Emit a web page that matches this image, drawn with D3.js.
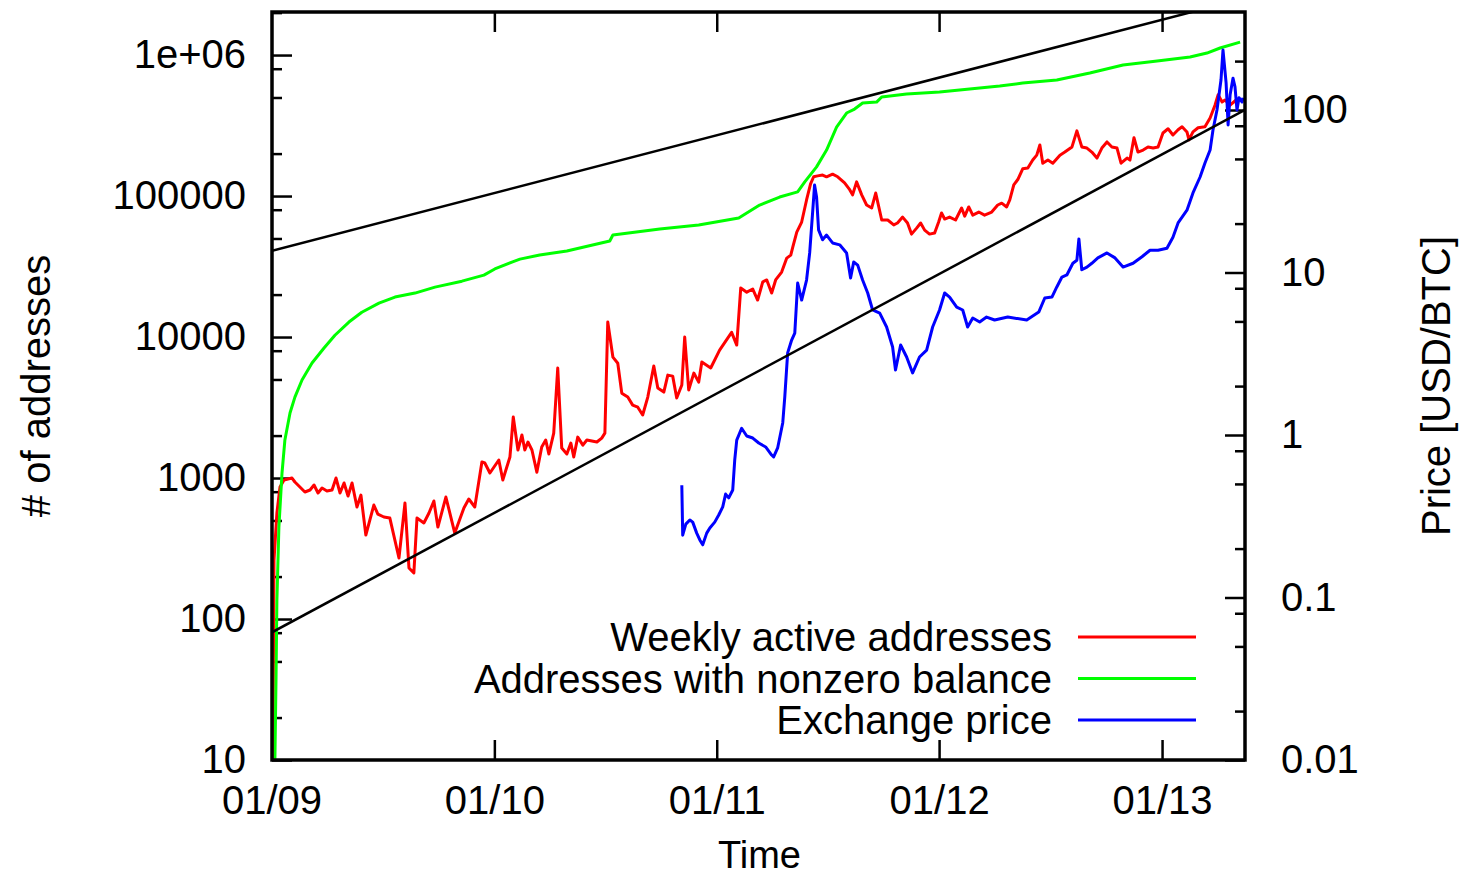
<!DOCTYPE html>
<html>
<head>
<meta charset="utf-8">
<script src="https://cdn.jsdelivr.net/npm/d3@7"></script>
<style>
  body { margin: 0; background: #fff; }
  text { font-family: "Liberation Sans", Arial, Helvetica, sans-serif; }
</style>
</head>
<body>
<script>
// Tamaño total y márgenes del área de gráfico
const WIDTH = 1461;
const HEIGHT = 879;
const MARGIN = { top: 12, bottom: 119, left: 272, right: 216 };

// Datos: [año decimal, valor]
const weeklyActive = [
  [2009.004, 10], [2009.009, 262], [2009.022, 565], [2009.036, 863], [2009.054, 968],
  [2009.090, 1000], [2009.103, 937], [2009.148, 796], [2009.171, 822], [2009.189, 892],
  [2009.207, 783], [2009.225, 849], [2009.247, 809], [2009.270, 822], [2009.288, 1000],
  [2009.306, 783], [2009.324, 922], [2009.342, 745], [2009.360, 922], [2009.382, 623],
  [2009.400, 757], [2009.422, 394], [2009.458, 643], [2009.476, 555], [2009.503, 529],
  [2009.530, 520], [2009.571, 271], [2009.598, 665], [2009.616, 230], [2009.638, 212],
  [2009.652, 520], [2009.683, 480], [2009.706, 565], [2009.728, 687], [2009.746, 449],
  [2009.782, 733], [2009.822, 407], [2009.863, 613], [2009.885, 710], [2009.912, 623],
  [2009.944, 1300], [2009.957, 1278], [2009.980, 1085], [2010.020, 1342], [2010.038, 968],
  [2010.070, 1409], [2010.085, 2707], [2010.106, 1580], [2010.124, 2020], [2010.137, 1580],
  [2010.151, 1800], [2010.169, 1580], [2010.191, 1100], [2010.213, 1660], [2010.231, 1860],
  [2010.245, 1480], [2010.267, 2080], [2010.285, 6030], [2010.303, 1630], [2010.326, 1480],
  [2010.344, 1770], [2010.357, 1410], [2010.375, 1950], [2010.398, 1710], [2010.416, 1860],
  [2010.461, 1800], [2010.483, 1920], [2010.497, 2080], [2010.510, 12800], [2010.533, 7210],
  [2010.555, 6520], [2010.573, 4000], [2010.600, 3750], [2010.622, 3290], [2010.645, 3180],
  [2010.667, 2800], [2010.690, 3750], [2010.717, 6230], [2010.735, 4350], [2010.762, 4070],
  [2010.780, 5370], [2010.802, 5280], [2010.820, 3690], [2010.843, 4570], [2010.856, 10000],
  [2010.874, 4210], [2010.897, 5550], [2010.919, 4790], [2010.933, 6640], [2010.973, 6030],
  [2011.013, 8080], [2011.067, 10800], [2011.090, 8770], [2011.108, 22300], [2011.135, 20800],
  [2011.162, 21900], [2011.184, 18300], [2011.207, 24600], [2011.225, 25400], [2011.247, 20500],
  [2011.265, 25400], [2011.292, 28900], [2011.315, 36300], [2011.333, 38100], [2011.342, 43400],
  [2011.360, 55500], [2011.382, 65400], [2011.404, 93800], [2011.422, 122000], [2011.436, 137000],
  [2011.454, 139000], [2011.476, 141000], [2011.494, 137000], [2011.521, 143000], [2011.544, 137000],
  [2011.575, 124000], [2011.598, 111000], [2011.611, 102000], [2011.629, 126000], [2011.652, 102000],
  [2011.674, 86400], [2011.697, 82300], [2011.715, 105000], [2011.742, 67600], [2011.769, 67600],
  [2011.796, 62400], [2011.813, 64400], [2011.836, 70900], [2011.858, 64400], [2011.876, 53700],
  [2011.899, 59200], [2011.917, 64400], [2011.935, 57300], [2011.957, 53700], [2011.980, 54600],
  [2011.998, 65400], [2012.011, 75800], [2012.025, 68700], [2012.047, 70900], [2012.074, 67600],
  [2012.101, 82300], [2012.115, 72000], [2012.133, 83700], [2012.151, 73200], [2012.178, 77000],
  [2012.204, 73200], [2012.236, 77000], [2012.263, 86400], [2012.281, 89000], [2012.303, 83700],
  [2012.317, 93800], [2012.335, 120000], [2012.353, 131000], [2012.375, 156000], [2012.398, 158000],
  [2012.420, 180000], [2012.438, 195000], [2012.452, 230000], [2012.465, 171000], [2012.488, 180000],
  [2012.510, 171000], [2012.542, 195000], [2012.564, 205000], [2012.596, 223000], [2012.618, 290000],
  [2012.640, 223000], [2012.663, 219000], [2012.685, 205000], [2012.708, 186000], [2012.730, 219000],
  [2012.753, 242000], [2012.775, 223000], [2012.798, 219000], [2012.816, 171000], [2012.843, 186000],
  [2012.856, 180000], [2012.874, 259000], [2012.892, 205000], [2012.915, 212000], [2012.937, 223000],
  [2012.960, 219000], [2012.982, 223000], [2013.004, 280000], [2013.027, 300000], [2013.049, 271000],
  [2013.072, 295000], [2013.090, 310000], [2013.112, 285000], [2013.121, 250000], [2013.139, 285000],
  [2013.162, 305000], [2013.193, 310000], [2013.216, 358000], [2013.238, 441000], [2013.252, 522000],
  [2013.270, 465000], [2013.283, 480000], [2013.306, 441000], [2013.333, 480000]
];

const nonzeroBalance = [
  [2009.013, 10], [2009.018, 37], [2009.022, 136], [2009.031, 449], [2009.045, 1084],
  [2009.058, 1862], [2009.081, 2891], [2009.103, 3750], [2009.135, 4954], [2009.180, 6540],
  [2009.234, 8360], [2009.283, 10300], [2009.346, 12770], [2009.404, 15000], [2009.481, 17400],
  [2009.553, 19200], [2009.643, 20500], [2009.733, 22600], [2009.854, 24900], [2009.953, 27500],
  [2010.002, 30400], [2010.079, 34000], [2010.115, 35700], [2010.204, 38200], [2010.326, 40700],
  [2010.519, 48000], [2010.533, 52900], [2010.744, 58300], [2010.919, 62300], [2011.099, 69800],
  [2011.193, 86300], [2011.283, 98400], [2011.364, 107000], [2011.396, 126000], [2011.449, 161000],
  [2011.494, 212000], [2011.539, 308000], [2011.584, 388000], [2011.620, 414000], [2011.656, 457000],
  [2011.719, 464000], [2011.742, 504000], [2011.854, 529000], [2012.002, 547000], [2012.272, 603000],
  [2012.375, 633000], [2012.528, 665000], [2012.676, 745000], [2012.825, 849000], [2012.978, 906000],
  [2013.126, 968000], [2013.202, 1033000], [2013.261, 1122000], [2013.351, 1236000]
];

const exchangePrice = [
  [2010.843, 0.49], [2010.847, 0.242], [2010.861, 0.283], [2010.879, 0.300], [2010.892, 0.291],
  [2010.910, 0.249], [2010.924, 0.226], [2010.937, 0.211], [2010.955, 0.249], [2010.969, 0.268],
  [2010.991, 0.291], [2011.009, 0.322], [2011.027, 0.361], [2011.040, 0.433], [2011.054, 0.410],
  [2011.072, 0.459], [2011.081, 0.702], [2011.090, 0.931], [2011.112, 1.10], [2011.135, 0.986],
  [2011.162, 0.958], [2011.189, 0.893], [2011.220, 0.844], [2011.247, 0.753], [2011.256, 0.733],
  [2011.274, 0.832], [2011.297, 1.19], [2011.306, 1.71], [2011.319, 3.20], [2011.337, 3.84],
  [2011.351, 4.24], [2011.364, 8.62], [2011.382, 6.77], [2011.404, 8.99], [2011.418, 13.2],
  [2011.431, 23.2], [2011.440, 34.5], [2011.449, 29.2], [2011.458, 18.3], [2011.476, 15.9],
  [2011.494, 17.0], [2011.521, 15.2], [2011.553, 14.8], [2011.584, 13.2], [2011.602, 9.25],
  [2011.616, 11.6], [2011.634, 11.1], [2011.656, 8.99], [2011.679, 7.48], [2011.701, 5.88],
  [2011.733, 5.63], [2011.764, 4.62], [2011.791, 3.48], [2011.804, 2.51], [2011.827, 3.58],
  [2011.854, 3.02], [2011.881, 2.41], [2011.912, 3.02], [2011.944, 3.33], [2011.971, 4.62],
  [2012.002, 5.88], [2012.025, 7.48], [2012.047, 7.06], [2012.079, 6.13], [2012.106, 5.88],
  [2012.128, 4.62], [2012.151, 5.25], [2012.182, 4.96], [2012.213, 5.32], [2012.249, 5.10],
  [2012.308, 5.32], [2012.393, 5.10], [2012.447, 5.71], [2012.474, 6.97], [2012.506, 7.06],
  [2012.528, 8.15], [2012.551, 9.38], [2012.573, 9.66], [2012.600, 11.4], [2012.618, 11.9],
  [2012.627, 16.1], [2012.640, 10.4], [2012.663, 10.8], [2012.685, 11.4], [2012.712, 12.3],
  [2012.753, 13.2], [2012.789, 12.3], [2012.825, 10.8], [2012.870, 11.4], [2012.910, 12.5],
  [2012.946, 13.7], [2012.982, 13.7], [2013.022, 14.1], [2013.049, 16.5], [2013.072, 20.2],
  [2013.112, 24.2], [2013.139, 30.9], [2013.171, 38.7], [2013.193, 47.2], [2013.216, 56.7],
  [2013.229, 75.4], [2013.247, 100], [2013.265, 153], [2013.274, 234], [2013.288, 147],
  [2013.297, 80.9], [2013.306, 124], [2013.319, 157], [2013.328, 139], [2013.337, 100],
  [2013.346, 119], [2013.360, 112], [2013.364, 119]
];

// Rectas de tendencia (exponenciales en escala log)
const trendUpper = [[2009.0, 40900], [2013.373, 2530000]];
const trendLower = [[2009.0, 80.5], [2013.373, 409000]];

// Ejes
const X_END = 2013.373;
const xTickYears = [2010, 2011, 2012, 2013];
const xTickLabels = ["01/10", "01/11", "01/12", "01/13"];
const leftMajor = [10, 100, 1000, 10000, 100000, 1000000];
const leftLabels = ["10", "100", "1000", "10000", "100000", "1e+06"];
const rightMajor = [0.01, 0.1, 1, 10, 100];
const rightLabels = ["0.01", "0.1", "1", "10", "100"];
const minorMult = [2, 5, 8];

const legendItems = [
  { label: "Weekly active addresses", color: "#ff0000" },
  { label: "Addresses with nonzero balance", color: "#00ff00" },
  { label: "Exchange price", color: "#0000ff" },
];

// Convierte año decimal a fecha UTC
function yearToDate(t) {
  const y = Math.floor(t);
  const a = Date.UTC(y, 0, 1);
  const b = Date.UTC(y + 1, 0, 1);
  return new Date(a + (t - y) * (b - a));
}

const svg = d3.select("body")
  .append("svg")
  .attr("width", WIDTH)
  .attr("height", HEIGHT);

const x0 = MARGIN.left;
const x1 = WIDTH - MARGIN.right;
const y0 = MARGIN.top;
const y1 = HEIGHT - MARGIN.bottom;

const escalaX = d3.scaleUtc()
  .domain([yearToDate(2009), yearToDate(X_END)])
  .range([x0, x1]);

const escalaIzq = d3.scaleLog().domain([10, 2.02e6]).range([y1, y0]);
const escalaDer = d3.scaleLog().domain([0.01, 401]).range([y1, y0]);

// minor ticks
function minors(domain) {
  const out = [];
  for (let e = -3; e <= 7; e++) {
    minorMult.forEach(m => {
      const v = m * Math.pow(10, e);
      if (v > domain[0] && v < domain[1]) out.push(v);
    });
  }
  return out;
}

const FONT = 40;

function estiloEje(g) {
  g.select(".domain").remove();
  g.selectAll("line").attr("stroke", "#000").attr("stroke-width", 2.5);
  g.selectAll("text")
    .attr("font-size", FONT)
    .attr("fill", "#000")
    .attr("font-family", "'Liberation Sans', Arial, Helvetica, sans-serif");
}

// Eje izquierdo
svg.append("g")
  .attr("transform", `translate(${x0},0)`)
  .call(d3.axisLeft(escalaIzq).tickValues(minors(escalaIzq.domain())).tickSize(-10).tickFormat(""))
  .call(estiloEje);
svg.append("g")
  .attr("transform", `translate(${x0},0)`)
  .call(d3.axisLeft(escalaIzq).tickValues(leftMajor).tickSize(-20).tickPadding(26)
    .tickFormat((d, i) => leftLabels[i]))
  .call(estiloEje);

// Eje derecho
svg.append("g")
  .attr("transform", `translate(${x1},0)`)
  .call(d3.axisRight(escalaDer).tickValues(minors(escalaDer.domain())).tickSize(-10).tickFormat(""))
  .call(estiloEje);
svg.append("g")
  .attr("transform", `translate(${x1},0)`)
  .call(d3.axisRight(escalaDer).tickValues(rightMajor).tickSize(-20).tickPadding(36)
    .tickFormat((d, i) => rightLabels[i]))
  .call(estiloEje);

// Eje inferior y superior
svg.append("g")
  .attr("transform", `translate(0,${y1})`)
  .call(d3.axisBottom(escalaX).tickValues(xTickYears.map(yearToDate)).tickSize(-20).tickPadding(26)
    .tickFormat((d, i) => xTickLabels[i]))
  .call(estiloEje);
svg.append("g")
  .attr("transform", `translate(0,${y0})`)
  .call(d3.axisTop(escalaX).tickValues(xTickYears.map(yearToDate)).tickSize(-20).tickFormat(""))
  .call(estiloEje);

// etiqueta 01/09 en el borde izquierdo
svg.append("text")
  .attr("x", escalaX(yearToDate(2009)))
  .attr("y", y1 + 26)
  .attr("dy", "0.71em")
  .attr("text-anchor", "middle")
  .attr("font-size", FONT)
  .text("01/09");

// Series
svg.append("clipPath").attr("id", "clip")
  .append("rect").attr("x", x0).attr("y", y0).attr("width", x1 - x0).attr("height", y1 - y0);

const vis = svg.append("g").attr("clip-path", "url(#clip)");

const lineaIzq = d3.line()
  .x(d => escalaX(yearToDate(d[0])))
  .y(d => escalaIzq(d[1]));
const lineaDer = d3.line()
  .x(d => escalaX(yearToDate(d[0])))
  .y(d => escalaDer(d[1]));

[[weeklyActive, lineaIzq, "#ff0000"], [nonzeroBalance, lineaIzq, "#00ff00"], [exchangePrice, lineaDer, "#0000ff"]]
  .forEach(([datos, gen, color]) => {
    vis.append("path")
      .attr("d", gen(datos))
      .attr("fill", "none")
      .attr("stroke", color)
      .attr("stroke-width", 3)
      .attr("stroke-linejoin", "round");
  });

[trendUpper, trendLower].forEach(datos => {
  vis.append("path")
    .attr("d", lineaIzq(datos))
    .attr("fill", "none")
    .attr("stroke", "#000")
    .attr("stroke-width", 2.5);
});

// Borde
svg.append("rect")
  .attr("x", x0).attr("y", y0)
  .attr("width", x1 - x0).attr("height", y1 - y0)
  .attr("fill", "none")
  .attr("stroke", "#000")
  .attr("stroke-width", 3.5);

// Leyenda
const leyenda = svg.append("g");
legendItems.forEach((item, i) => {
  const yy = 637 + i * 41.5;
  leyenda.append("text")
    .attr("x", 1052).attr("y", yy)
    .attr("dy", "0.35em")
    .attr("text-anchor", "end")
    .attr("font-size", FONT)
    .text(item.label);
  leyenda.append("line")
    .attr("x1", 1078).attr("x2", 1196)
    .attr("y1", yy).attr("y2", yy)
    .attr("stroke", item.color)
    .attr("stroke-width", 3);
});

// Títulos de ejes
svg.append("text")
  .attr("x", (x0 + x1) / 2 + 1).attr("y", 868)
  .attr("text-anchor", "middle")
  .attr("font-size", 38)
  .text("Time");

svg.append("text")
  .attr("transform", `translate(36,386) rotate(-90)`)
  .attr("dy", "0.35em")
  .attr("text-anchor", "middle")
  .attr("font-size", FONT)
  .text("# of addresses");

svg.append("text")
  .attr("transform", `translate(1436,386) rotate(-90)`)
  .attr("dy", "0.35em")
  .attr("text-anchor", "middle")
  .attr("font-size", FONT)
  .text("Price [USD/BTC]");
</script>
</body>
</html>
